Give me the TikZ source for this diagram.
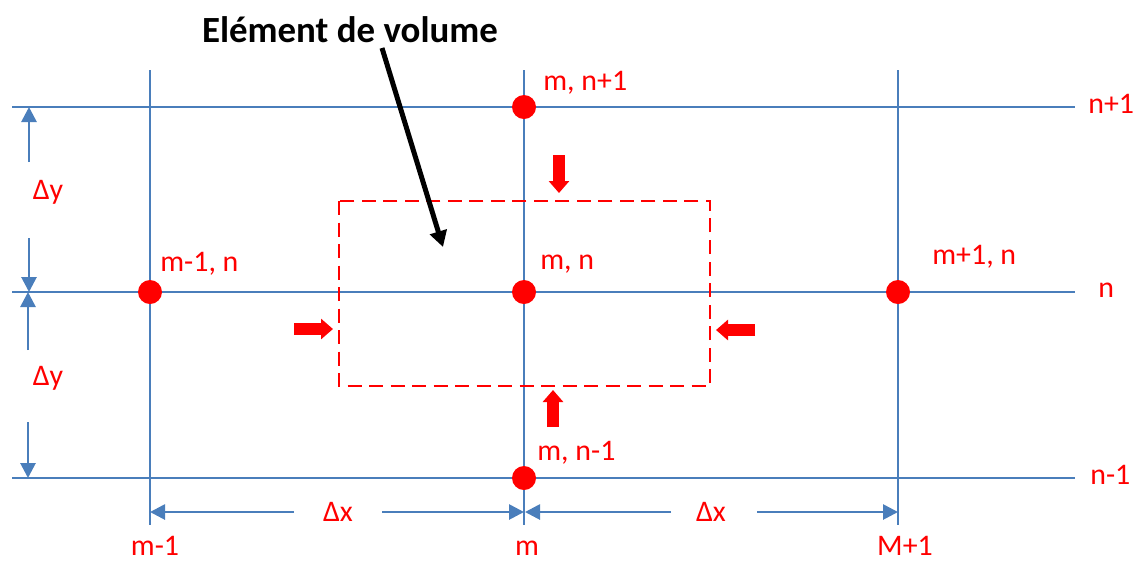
\documentclass[tikz,border=0pt]{standalone}
\usepackage{fontspec}
\setmainfont{Carlito}
\usetikzlibrary{arrows.meta,positioning}
\definecolor{gridblue}{HTML}{4A7EBB}
\definecolor{ptred}{HTML}{FF0000}
\tikzset{
  gridline/.style={draw=gridblue, line width=0.27mm},
  ptdot/.style={circle, fill=ptred, minimum size=4.8mm, inner sep=0pt},
  ptlabel/.style={text=ptred, font=\fontsize{17}{20}\selectfont, inner sep=0pt},
  dimarrow/.style={-{Triangle[length=3mm,width=3mm]}, draw=gridblue, line width=0.55mm},
  fluxarrow/.style={-{Triangle[length=2.4mm,width=4mm]}, draw=ptred, line width=2.3mm},
  volbox/.style={draw=ptred, line width=0.5mm, dash pattern=on 2.8mm off 1.5mm},
}
\begin{document}
\begin{tikzpicture}[x=0.2mm,y=-0.2mm]
  \useasboundingbox (0,0) rectangle (1137,563);
  % grid
  \foreach \yy in {107,292,478} \draw[gridline] (12,\yy) -- (1075,\yy);
  \foreach \xx in {150,524,898} \draw[gridline] (\xx,70) -- (\xx,525);

  % control volume
  \draw[volbox] (339,201) rectangle (710,386);

  % nodes of the mesh
  \node[ptdot] (mn)  at (524,292) {};
  \node[ptdot] (mnp) at (524,107) {};
  \node[ptdot] (mnm) at (524,478) {};
  \node[ptdot] (mmn) at (150,292) {};
  \node[ptdot] (mpn) at (898,292) {};

  \node[ptlabel,anchor=west] (lmnp) at (543,83)  {m, n+1};
  \node[ptlabel,anchor=west] (lmmn) at (160,264) {m-1, n};
  \node[ptlabel,anchor=west] (lmn)  at (540,264) {m, n};
  \node[ptlabel,anchor=west] (lmpn) at (932,257) {m+1, n};
  \node[ptlabel,anchor=west] (lmnm) at (537,453) {m, n-1};
  \node[ptlabel,anchor=west] (rowp) at (1088,104) {n+1};
  \node[ptlabel,anchor=west] (row)  at (1098,290) {n};
  \node[ptlabel,anchor=west] (rowm) at (1090,475) {n-1};
  \node[ptlabel] (colm) at (155,546) {m-1};
  \node[ptlabel] (col)  at (527,548) {m};
  \node[ptlabel] (colp) at (905,546) {M+1};

  % dimensions
  \node[ptlabel] (dyup) at (48,192) {Δy};
  \node[ptlabel] (dylo) at (48,378) {Δy};
  \node[ptlabel] (dxl)  at (338,512) {Δx};
  \node[ptlabel] (dxr)  at (711,512) {Δx};
  \coordinate (a1) at (29,162);  \coordinate (b1) at (29,107);
  \coordinate (a2) at (29,238);  \coordinate (b2) at (29,292);
  \coordinate (a3) at (28,350);  \coordinate (b3) at (28,292);
  \coordinate (a4) at (28,422);  \coordinate (b4) at (28,478);
  \coordinate (a5) at (294,512); \coordinate (b5) at (150,512);
  \coordinate (a6) at (382,512); \coordinate (b6) at (524,512);
  \coordinate (a7) at (671,512); \coordinate (b7) at (525,512);
  \coordinate (a8) at (757,512); \coordinate (b8) at (898,512);
  \foreach \i in {1,...,8} \draw[dimarrow] (a\i) -- (b\i);

  % fluxes through the faces
  \coordinate (ft) at (559,155); \coordinate (ftb) at (559,193);
  \coordinate (fb) at (553,427); \coordinate (fbb) at (553,390);
  \coordinate (fl) at (294,329); \coordinate (flb) at (333,329);
  \coordinate (fr) at (755,330); \coordinate (frb) at (716,330);
  \draw[fluxarrow] (ft) -- (ftb);
  \draw[fluxarrow] (fb) -- (fbb);
  \draw[fluxarrow] (fl) -- (flb);
  \draw[fluxarrow] (fr) -- (frb);

  % title
  \node[font=\bfseries\fontsize{21}{25}\selectfont] (title) at (350,30) {Elément de volume};
  \coordinate (tip) at (443,247);
  \draw[-{Triangle[length=3.2mm,width=3.4mm]}, line width=1mm] (382,48) -- (tip);
\end{tikzpicture}
\end{document}
